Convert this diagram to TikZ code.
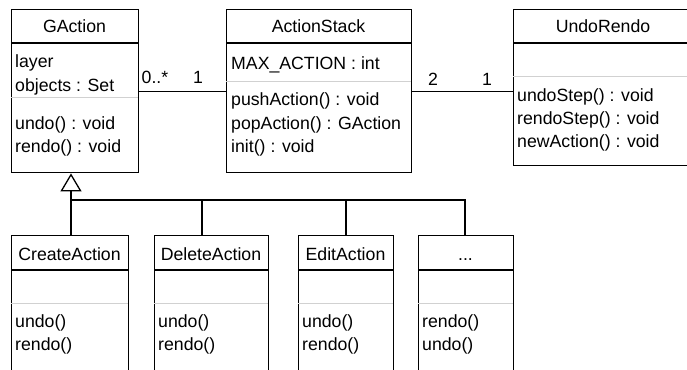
\documentclass[tikz,border=0pt]{standalone}
\usepackage{fontspec}
\setmainfont{Liberation Sans}
\usetikzlibrary{arrows.meta}
\begin{document}
\begin{tikzpicture}[x=1pt,y=-1pt,
  umlbox/.style={draw, line width=1.4pt, anchor=north west, inner sep=0pt},
  hdr/.style={line width=1.4pt},
  sepline/.style={draw=black!18, line width=0.9pt},
  conn/.style={line width=1.3pt},
  txt/.style={anchor=base west, inner sep=0pt, font=\fontsize{17.7}{20}\selectfont},
  ttl/.style={anchor=base, inner sep=0pt, font=\fontsize{17.7}{20}\selectfont},
]
\useasboundingbox (0,0) rectangle (687,369);
\clip (0,0) rectangle (687,369);
\fill[white] (0,0) rectangle (687,369);

% GAction
\node[umlbox, minimum width=127pt, minimum height=163pt] (ga) at (11,9) {};
\draw[hdr] (11,43) -- (138,43);
\draw[sepline] (11,97) -- (138,97);
\node[ttl] (gat) at (74.5,33) {GAction};
\node[txt] (ga1) at (15,67.5) {layer};
\node[txt] (ga2) at (15,91) {objects : Set};
\node[txt] (ga3) at (15,129.5) {undo() : void};
\node[txt] (ga4) at (15,152.5) {rendo() : void};

% ActionStack
\node[umlbox, minimum width=185pt, minimum height=163pt] (as) at (226,9) {};
\draw[hdr] (226,43) -- (411,43);
\draw[sepline] (226,81) -- (411,81);
\node[ttl] (ast) at (318.5,33) {ActionStack};
\node[txt] (as1) at (231,69) {MAX\_ACTION : int};
\node[txt] (as2) at (231,105.5) {pushAction() : void};
\node[txt] (as3) at (231,129.5) {popAction() : GAction};
\node[txt] (as4) at (231,152.5) {init() : void};

% UndoRendo
\node[umlbox, minimum width=180pt, minimum height=156pt] (ur) at (513,9) {};
\draw[hdr] (513,43) -- (693,43);
\draw[sepline] (513,76) -- (693,76);
\node[ttl] (urt) at (603,33) {UndoRendo};
\node[txt] (ur1) at (517,101) {undoStep() : void};
\node[txt] (ur2) at (517,124) {rendoStep() : void};
\node[txt] (ur3) at (517,147.5) {newAction() : void};

% associations
\draw[conn] (ga.east) -- (as.west);
\node[ttl] (m1) at (155,83) {0..*};
\node[ttl] (m2) at (198,83) {1};
\draw[conn] (as.east) -- (as.east -| ur.west);
\node[ttl] (m3) at (433,85) {2};
\node[ttl] (m4) at (487,85) {1};

% subclasses
\node[umlbox, minimum width=117pt, minimum height=140pt] (c1) at (11,235) {};
\draw[hdr] (11,270) -- (128,270);
\draw[sepline] (11,303) -- (128,303);
\node[ttl] (c1t) at (69.5,260) {CreateAction};
\node[txt] (c1a) at (15,327.5) {undo()};
\node[txt] (c1b) at (15,350.5) {rendo()};

\node[umlbox, minimum width=114pt, minimum height=140pt] (c2) at (154,235) {};
\draw[hdr] (154,270) -- (268,270);
\draw[sepline] (154,303) -- (268,303);
\node[ttl] (c2t) at (211,260) {DeleteAction};
\node[txt] (c2a) at (158,327.5) {undo()};
\node[txt] (c2b) at (158,350.5) {rendo()};

\node[umlbox, minimum width=95pt, minimum height=140pt] (c3) at (298,235) {};
\draw[hdr] (298,270) -- (393,270);
\draw[sepline] (298,303) -- (393,303);
\node[ttl] (c3t) at (345.5,260) {EditAction};
\node[txt] (c3a) at (302,327.5) {undo()};
\node[txt] (c3b) at (302,350.5) {rendo()};

\node[umlbox, minimum width=95pt, minimum height=140pt] (c4) at (418,235) {};
\draw[hdr] (418,270) -- (513,270);
\draw[sepline] (418,303) -- (513,303);
\node[ttl] (c4t) at (465.5,260) {...};
\node[txt] (c4a) at (422,327.5) {rendo()};
\node[txt] (c4b) at (422,350.5) {undo()};

% generalization
\coordinate (bus) at (71,200);
\draw[conn, -{Triangle[open, length=18pt, width=21pt, line width=1.3pt]}] (bus) -- (bus |- ga.south);
\draw[conn] (bus |- c1.north) -- (bus) -- (465,200) -- (465,235);
\draw[conn] (202,200) -- (202,235);
\draw[conn] (346,200) -- (346,235);
\end{tikzpicture}
\end{document}
